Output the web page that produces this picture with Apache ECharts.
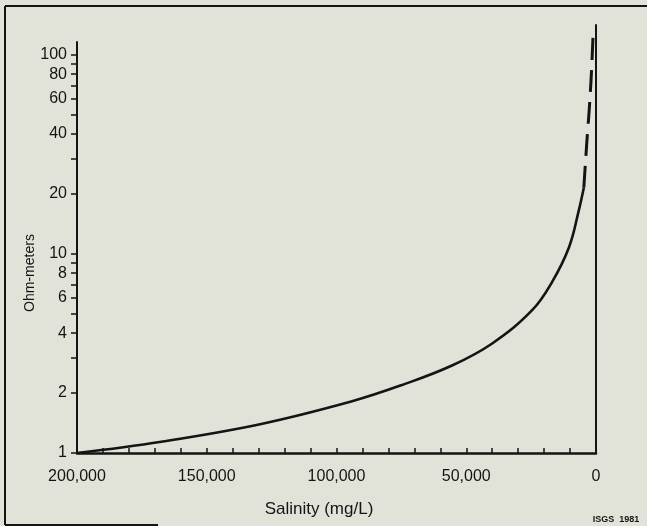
<!DOCTYPE html>
<html>
<head>
<meta charset="UTF-8">
<title>Salinity vs resistivity</title>
<script src="https://cdn.jsdelivr.net/npm/echarts@6.0.0/dist/echarts.min.js"></script>
<style>
  html, body { margin: 0; padding: 0; background: #e2e3d8; }
  #chart { width: 647px; height: 526px; }
</style>
</head>
<body>
<div id="chart"></div>
<script>
// salinity (mg/L) and resistivity (ohm-meters)
const solidSalinity = [200000, 167500, 129000, 94000, 75000, 55500, 40000, 24700, 17000, 10400, 6600, 4700];
const solidOhm      = [1.0,    1.14,   1.40,   1.82,  2.19,  2.75,  3.55,  5.2,   7.2,   10.8,  16.6,  21.5];
const dashSalinity  = [4700, 3500, 2700, 1900, 1150];
const dashOhm       = [21.5, 37,   51,   75,   123];

const yLabelValues = [1, 2, 4, 6, 8, 10, 20, 40, 60, 80, 100];
const yTickValues  = [1, 2, 3, 4, 5, 6, 7, 8, 9, 10, 20, 30, 40, 50, 60, 70, 80, 90, 100];
const xLabelValues = [0, 50000, 100000, 150000, 200000];

const ink = '#141414';
const font = 'Liberation Sans, Arial, sans-serif';

const chart = echarts.init(document.getElementById('chart'));

function pairs(xs, ys) {
  return xs.map((x, i) => [x, ys[i]]);
}

chart.setOption({
  backgroundColor: '#e2e3d8',
  animation: false,
  grid: [
    { left: 77, right: 51, top: 42, bottom: 73 },
    { left: 77, right: 51, top: 25, bottom: 73 }
  ],
  xAxis: [{
    gridIndex: 0,
    type: 'value',
    inverse: true,
    min: 0,
    max: 200000,
    interval: 10000,
    axisLine: { show: true, onZero: false, lineStyle: { color: ink, width: 2.5 } },
    axisTick: { show: true, inside: true, length: 5, lineStyle: { color: ink, width: 1.5 } },
    splitLine: { show: false },
    axisLabel: {
      margin: 16,
      fontSize: 16,
      fontFamily: font,
      color: ink,
      formatter: v => xLabelValues.indexOf(v) >= 0 ? v.toLocaleString('en-US') : ''
    }
  }, {
    gridIndex: 1,
    type: 'value',
    show: false,
    min: 0,
    max: 1
  }],
  yAxis: [{
    gridIndex: 0,
    type: 'log',
    logBase: 10,
    min: 1,
    max: 116,
    position: 'left',
    axisLine: { show: true, onZero: false, lineStyle: { color: ink, width: 2 } },
    axisTick: { show: true, length: 6, customValues: yTickValues, lineStyle: { color: ink, width: 1.5 } },
    minorTick: { show: false },
    splitLine: { show: false },
    axisLabel: {
      margin: 10,
      fontSize: 16,
      fontFamily: font,
      color: ink,
      customValues: yLabelValues,
      formatter: v => String(v)
    }
  }, {
    gridIndex: 1,
    type: 'value',
    position: 'right',
    min: 0,
    max: 1,
    axisLine: { show: true, onZero: false, lineStyle: { color: ink, width: 2 } },
    axisTick: { show: false },
    axisLabel: { show: false },
    splitLine: { show: false }
  }],
  series: [{
    type: 'line',
    xAxisIndex: 0,
    yAxisIndex: 0,
    data: pairs(solidSalinity, solidOhm),
    smooth: 0.4,
    symbol: 'none',
    clip: false,
    lineStyle: { color: ink, width: 2.6 }
  }, {
    type: 'line',
    xAxisIndex: 0,
    yAxisIndex: 0,
    data: pairs(dashSalinity, dashOhm),
    smooth: 0.3,
    symbol: 'none',
    clip: false,
    lineStyle: { color: ink, width: 3, type: [22, 10] }
  }],
  graphic: [
    // scanned frame (top, left, part of bottom)
    { type: 'line', shape: { x1: 5, y1: 6, x2: 647, y2: 6 }, style: { stroke: ink, lineWidth: 2 } },
    { type: 'line', shape: { x1: 5, y1: 6, x2: 5, y2: 525 }, style: { stroke: ink, lineWidth: 2 } },
    { type: 'line', shape: { x1: 5, y1: 525, x2: 158, y2: 525 }, style: { stroke: ink, lineWidth: 2 } },
    {
      type: 'text', x: 30, y: 273, rotation: Math.PI / 2,
      style: { text: 'Ohm-meters', font: '14px ' + font, fill: ink, textAlign: 'center', textVerticalAlign: 'middle' }
    },
    {
      type: 'text', x: 319, y: 509,
      style: { text: 'Salinity (mg/L)', font: '17px ' + font, fill: ink, textAlign: 'center', textVerticalAlign: 'middle' }
    },
    {
      type: 'text', x: 616, y: 520,
      style: { text: 'ISGS  1981', font: 'bold 9px ' + font, fill: ink, textAlign: 'center', textVerticalAlign: 'middle' }
    }
  ]
});
</script>
</body>
</html>
